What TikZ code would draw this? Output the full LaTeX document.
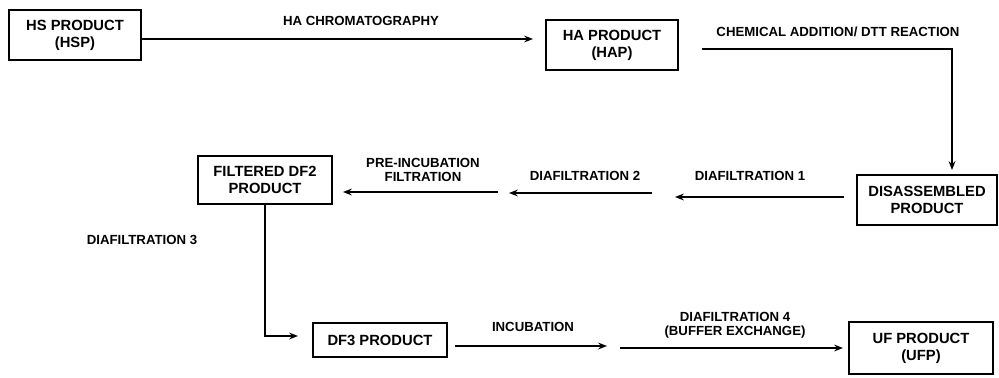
\documentclass[tikz,border=0pt]{standalone}
\usepackage{fontspec}
\setmainfont{Liberation Sans}
\usepackage{tikz}
\usetikzlibrary{arrows.meta,positioning}

\begin{document}
\begin{tikzpicture}[
    x=0.025cm, y=-0.025cm,
    font=\bfseries\fontsize{9.4}{10}\selectfont,
    prodbox/.style={
      draw,
      line width=1.4pt,
      align=center,
      inner sep=0pt,
      font=\bfseries\fontsize{10.5}{12}\selectfont
    },
    lbl/.style={align=center, inner sep=0pt},
    flow/.style={-{Stealth[length=2.2mm,width=1.7mm]}, line width=1.1pt}
  ]
    \useasboundingbox (0,0) rectangle (999,377);

    % product boxes
    \node[prodbox, minimum width=3.3cm, minimum height=1.25cm] (hsp) at (75,35) {HS PRODUCT\\(HSP)};
    \node[prodbox, minimum width=3.3cm, minimum height=1.25cm] (hap) at (612,45) {HA PRODUCT\\(HAP)};
    \node[prodbox, minimum width=3.5cm, minimum height=1.25cm] (dis) at (927,200) {DISASSEMBLED\\PRODUCT};
    \node[prodbox, minimum width=3.35cm, minimum height=1.18cm] (df2) at (265,180) {FILTERED DF2\\PRODUCT};
    \node[prodbox, minimum width=3.35cm, minimum height=0.85cm] (df3) at (380,340) {DF3 PRODUCT};
    \node[prodbox, minimum width=3.62cm, minimum height=1.32cm] (ufp) at (921,348) {UF PRODUCT\\(UFP)};

    % step labels
    \node[lbl] (lha) at (361,21) {HA CHROMATOGRAPHY};
    \node[lbl] (lchem) at (838,32) {CHEMICAL ADDITION/ DTT REACTION};
    \node[lbl] (ld1) at (750,176) {DIAFILTRATION 1};
    \node[lbl] (ld2) at (585,176) {DIAFILTRATION 2};
    \node[lbl] (lpre) at (423,170) {PRE-INCUBATION\\FILTRATION};
    \node[lbl] (ld3) at (142,240) {DIAFILTRATION 3};
    \node[lbl] (linc) at (533,327) {INCUBATION};
    \node[lbl] (ld4) at (735,325) {DIAFILTRATION 4\\(BUFFER EXCHANGE)};

    % free ends of the arrows
    \coordinate (haIn) at (533,39);
    \coordinate (chemA) at (702,49);
    \coordinate (disIn) at (952,170);
    \coordinate (d1a) at (844,197);
    \coordinate (d1b) at (675,197);
    \coordinate (d2a) at (652,193);
    \coordinate (d2b) at (509,193);
    \coordinate (prea) at (498,192);
    \coordinate (preb) at (343,192);
    \coordinate (df3In) at (298,336);
    \coordinate (inca) at (455,346);
    \coordinate (incb) at (607,346);
    \coordinate (d4a) at (620,348);
    \coordinate (d4b) at (843,348);

    \draw[flow] (hsp.east |- haIn) -- (haIn);
    \draw[flow] (chemA) -| (disIn);
    \draw[flow] (d1a) -- (d1b);
    \draw[flow] (d2a) -- (d2b);
    \draw[flow] (prea) -- (preb);
    \draw[flow] (df2.south) |- (df3In);
    \draw[flow] (inca) -- (incb);
    \draw[flow] (d4a) -- (d4b);
  \end{tikzpicture}
\end{document}
